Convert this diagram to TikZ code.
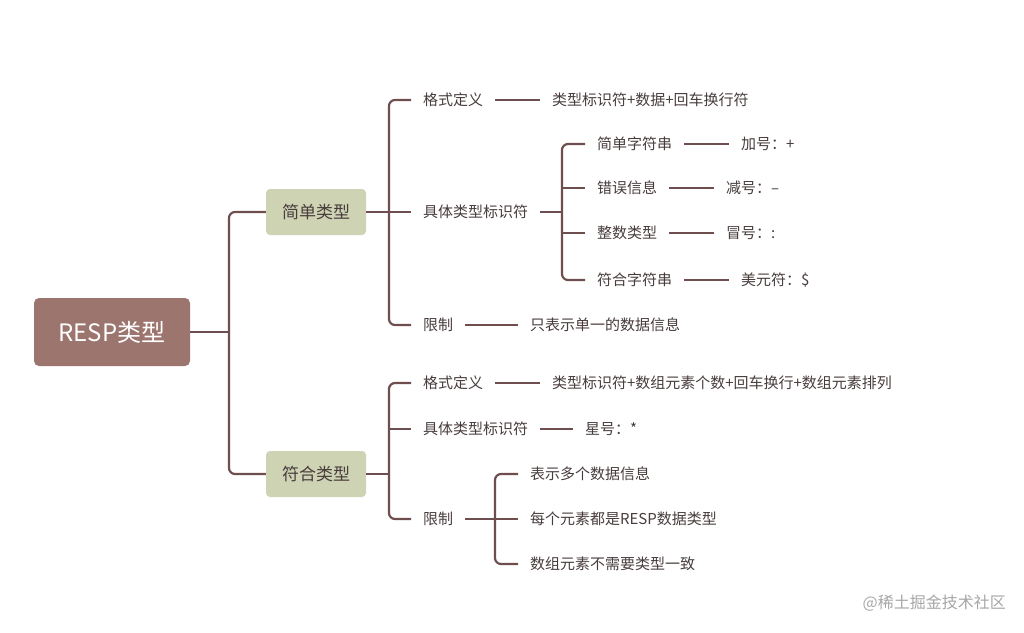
\documentclass[tikz,border=0pt]{standalone}
\usepackage{fontspec}
\setmainfont{Noto Sans CJK SC}
\usetikzlibrary{arrows,shapes}
\definecolor{linebrown}{RGB}{110,78,78}
\definecolor{rootfill}{RGB}{157,117,111}
\definecolor{sagefill}{RGB}{206,211,180}
\definecolor{labeltext}{RGB}{72,60,60}
\tikzstyle{rootbox}=[rectangle,rounded corners=5pt,fill=rootfill,text=white,minimum width=156pt,minimum height=68pt,font=\fontsize{24}{28}\selectfont]
\tikzstyle{typebox}=[rectangle,rounded corners=4pt,fill=sagefill,text=labeltext,minimum width=100pt,minimum height=46pt,font=\fontsize{17}{20}\selectfont]
\tikzstyle{item}=[anchor=west,inner sep=0pt,outer xsep=12pt,text=labeltext,font=\fontsize{15}{18}\selectfont]
\tikzstyle{watermark}=[anchor=east,inner sep=0pt,text=gray!70,font=\fontsize{16}{18}\selectfont]
\tikzstyle{edge} = [draw,line width=2.2pt,linebrown,-]
\tikzstyle{bracket} = [edge,rounded corners=6pt]

\begin{document}
\begin{tikzpicture}[x=1pt,y=-1pt]
    \useasboundingbox (0,0) rectangle (1024,632);
    % Root and the two type boxes
    \node[rootbox] (root) at (112,332) {RESP类型};
    \node[typebox] (simple) at (316,212) {简单类型};
    \node[typebox] (compound) at (316,474) {符合类型};

    % Junctions of the brackets
    \coordinate (j0) at (229,332);
    \coordinate (j1) at (389,212);
    \coordinate (j2) at (562,212);
    \coordinate (j3) at (389,474);
    \coordinate (j4) at (495,519);

    % Then we draw the labels
    \foreach \pos/\name/\txt in {{(411,100)/fmtA/格式定义}, {(540,100)/fmtAv/类型标识符+数据+回车换行符},
        {(411,212)/kindA/具体类型标识符}, {(411,325)/limA/限制}, {(518,325)/limAv/只表示单一的数据信息},
        {(585,144)/strS/简单字符串}, {(729,144)/strSv/加号：+},
        {(585,188)/errS/错误信息}, {(714,188)/errSv/减号：–},
        {(585,233)/intS/整数类型}, {(714,233)/intSv/冒号：:},
        {(585,280)/bulkS/符合字符串}, {(729,280)/bulkSv/美元符：\$},
        {(411,383)/fmtB/格式定义}, {(540,383)/fmtBv/类型标识符+数组元素个数+回车换行+数组元素排列},
        {(411,429)/kindB/具体类型标识符}, {(573,429)/kindBv/星号：*},
        {(411,519)/limB/限制}, {(518,474)/multB/表示多个数据信息},
        {(518,519)/respB/每个元素都是RESP数据类型}, {(518,564)/consB/数组元素不需要类型一致}}
        \node[item] (\name) at \pos {\txt};

    \node[watermark] (mark) at (1006,603) {@稀土掘金技术社区};

    % Connect the trunk and the brackets
    \path[edge] (root) -- (j0);
    \path[bracket] (simple.west) -| (j0) |- (compound.west);
    \path[edge] (simple) -- (j1);
    \path[bracket] (fmtA.west) -| (j1) |- (limA.west);
    \path[edge] (j1) -- (kindA.west);
    \path[edge] (kindA) -- (j2);
    \path[bracket] (strS.west) -| (j2) |- (bulkS.west);
    \foreach \name in {errS, intS}
        \path[edge] (\name.west) -- (\name.west -| j2);
    \path[edge] (compound) -- (j3);
    \path[bracket] (fmtB.west) -| (j3) |- (limB.west);
    \path[edge] (kindB.west) -- (kindB.west -| j3);
    \path[edge] (limB) -- (j4);
    \path[bracket] (multB.west) -| (j4) |- (consB.west);
    \path[edge] (j4) -- (respB.west);

    % Connect labels with their values
    \foreach \source/ \dest in {fmtA/fmtAv, limA/limAv, strS/strSv, errS/errSv, intS/intSv, bulkS/bulkSv, fmtB/fmtBv, kindB/kindBv}
        \path[edge] (\source) -- (\dest) ;

\end{tikzpicture}
\end{document}
